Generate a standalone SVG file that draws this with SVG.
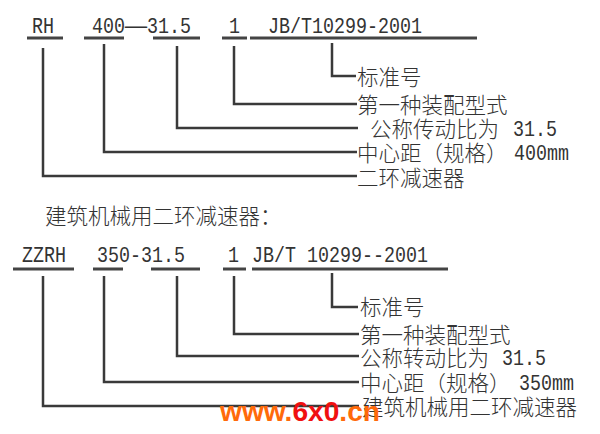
<svg xmlns="http://www.w3.org/2000/svg" width="600" height="434" viewBox="0 0 600 434">
<style>
.m{font-family:"Liberation Mono","DejaVu Sans Mono",monospace;font-size:22px;fill:#333}
.c{font-family:"Noto Sans CJK SC","Noto Sans",sans-serif;font-size:21.5px;font-weight:300;fill:#333}
.u{stroke:#444;stroke-width:3;fill:none}
.l{stroke:#3a3a3a;stroke-width:2.5;fill:none;stroke-linejoin:miter}
.w{font-family:"Liberation Sans",Arial,sans-serif;font-weight:bold;font-size:27px}
</style>
<rect width="600" height="434" fill="#fff"/>

<g id="code1">
<text class="m" x="32" y="33" textLength="22" lengthAdjust="spacingAndGlyphs">RH</text>
<text class="m" y="33"><tspan x="92" textLength="33" lengthAdjust="spacingAndGlyphs">400</tspan><tspan x="125" textLength="22" lengthAdjust="spacingAndGlyphs">—</tspan><tspan x="147" textLength="44" lengthAdjust="spacingAndGlyphs">31.5</tspan></text>
<text class="m" x="229" y="33" textLength="11" lengthAdjust="spacingAndGlyphs">1</text>
<text class="m" x="268" y="33" textLength="154" lengthAdjust="spacingAndGlyphs">JB/T10299-2001</text>
<path class="u" d="M27 38H63M84 38H124M153 38H200M222 38H247M250 38H477"/>
</g>

<g id="labels1">
<text class="c" x="357" y="85">标准号</text>
<text class="c" x="357" y="113">第一种装配型式</text>
<text class="c" x="370" y="137">公称传动比为<tspan class="m" x="513" y="136" textLength="44" lengthAdjust="spacingAndGlyphs">31.5</tspan></text>
<text class="c" x="357" y="161">中心距（规格）<tspan class="m" x="514" y="160" textLength="55" lengthAdjust="spacingAndGlyphs">400mm</tspan></text>
<text class="c" x="357" y="186">二环减速器</text>
</g>

<g id="heading">
<text class="c" x="45" y="224">建筑机械用二环减速器：</text>
</g>

<g id="code2">
<text class="m" x="22" y="262" textLength="44" lengthAdjust="spacingAndGlyphs">ZZRH</text>
<text class="m" x="97" y="262" textLength="88" lengthAdjust="spacingAndGlyphs">350-31.5</text>
<text class="m" x="228" y="262" textLength="11" lengthAdjust="spacingAndGlyphs">1</text>
<text class="m" x="252" y="262" textLength="176" lengthAdjust="spacingAndGlyphs">JB/T 10299--2001</text>
<path class="u" d="M13 269H74M93 269H123M151 269H200M223 269H246M252 269H448"/>
</g>

<g id="labels2">
<text class="c" x="360" y="315">标准号</text>
<text class="c" x="360" y="343">第一种装配型式</text>
<text class="c" x="360" y="366">公称转动比为<tspan class="m" x="502" y="365" textLength="44" lengthAdjust="spacingAndGlyphs">31.5</tspan></text>
<text class="c" x="360" y="391">中心距（规格）<tspan class="m" x="519" y="390" textLength="55" lengthAdjust="spacingAndGlyphs">350mm</tspan></text>
<text class="c" x="362" y="415">建筑机械用二环减速器</text>
</g>

<g id="connectors">
<polyline class="l" points="43,48 43,176 357,176"/>
<polyline class="l" points="104,44 104,152 357,152"/>
<polyline class="l" points="177,46 177,128 358,128"/>
<polyline class="l" points="234,46 234,104 357,104"/>
<polyline class="l" points="332,43 332,76 356,76"/>
<polyline class="l" points="43,276 43,406 359,406"/>
<polyline class="l" points="104,276 104,382 359,382"/>
<polyline class="l" points="177,276 177,356 359,356"/>
<polyline class="l" points="234,276 234,334 359,334"/>
<polyline class="l" points="332,273 332,307 358,307"/>
</g>

<g id="watermark">
<text class="w" x="220" y="421" textLength="160" lengthAdjust="spacingAndGlyphs"><tspan fill="#ff6a0a">www.</tspan><tspan fill="#f01010">6x0</tspan><tspan fill="#ff6a0a">.cn</tspan></text>
</g>
</svg>
